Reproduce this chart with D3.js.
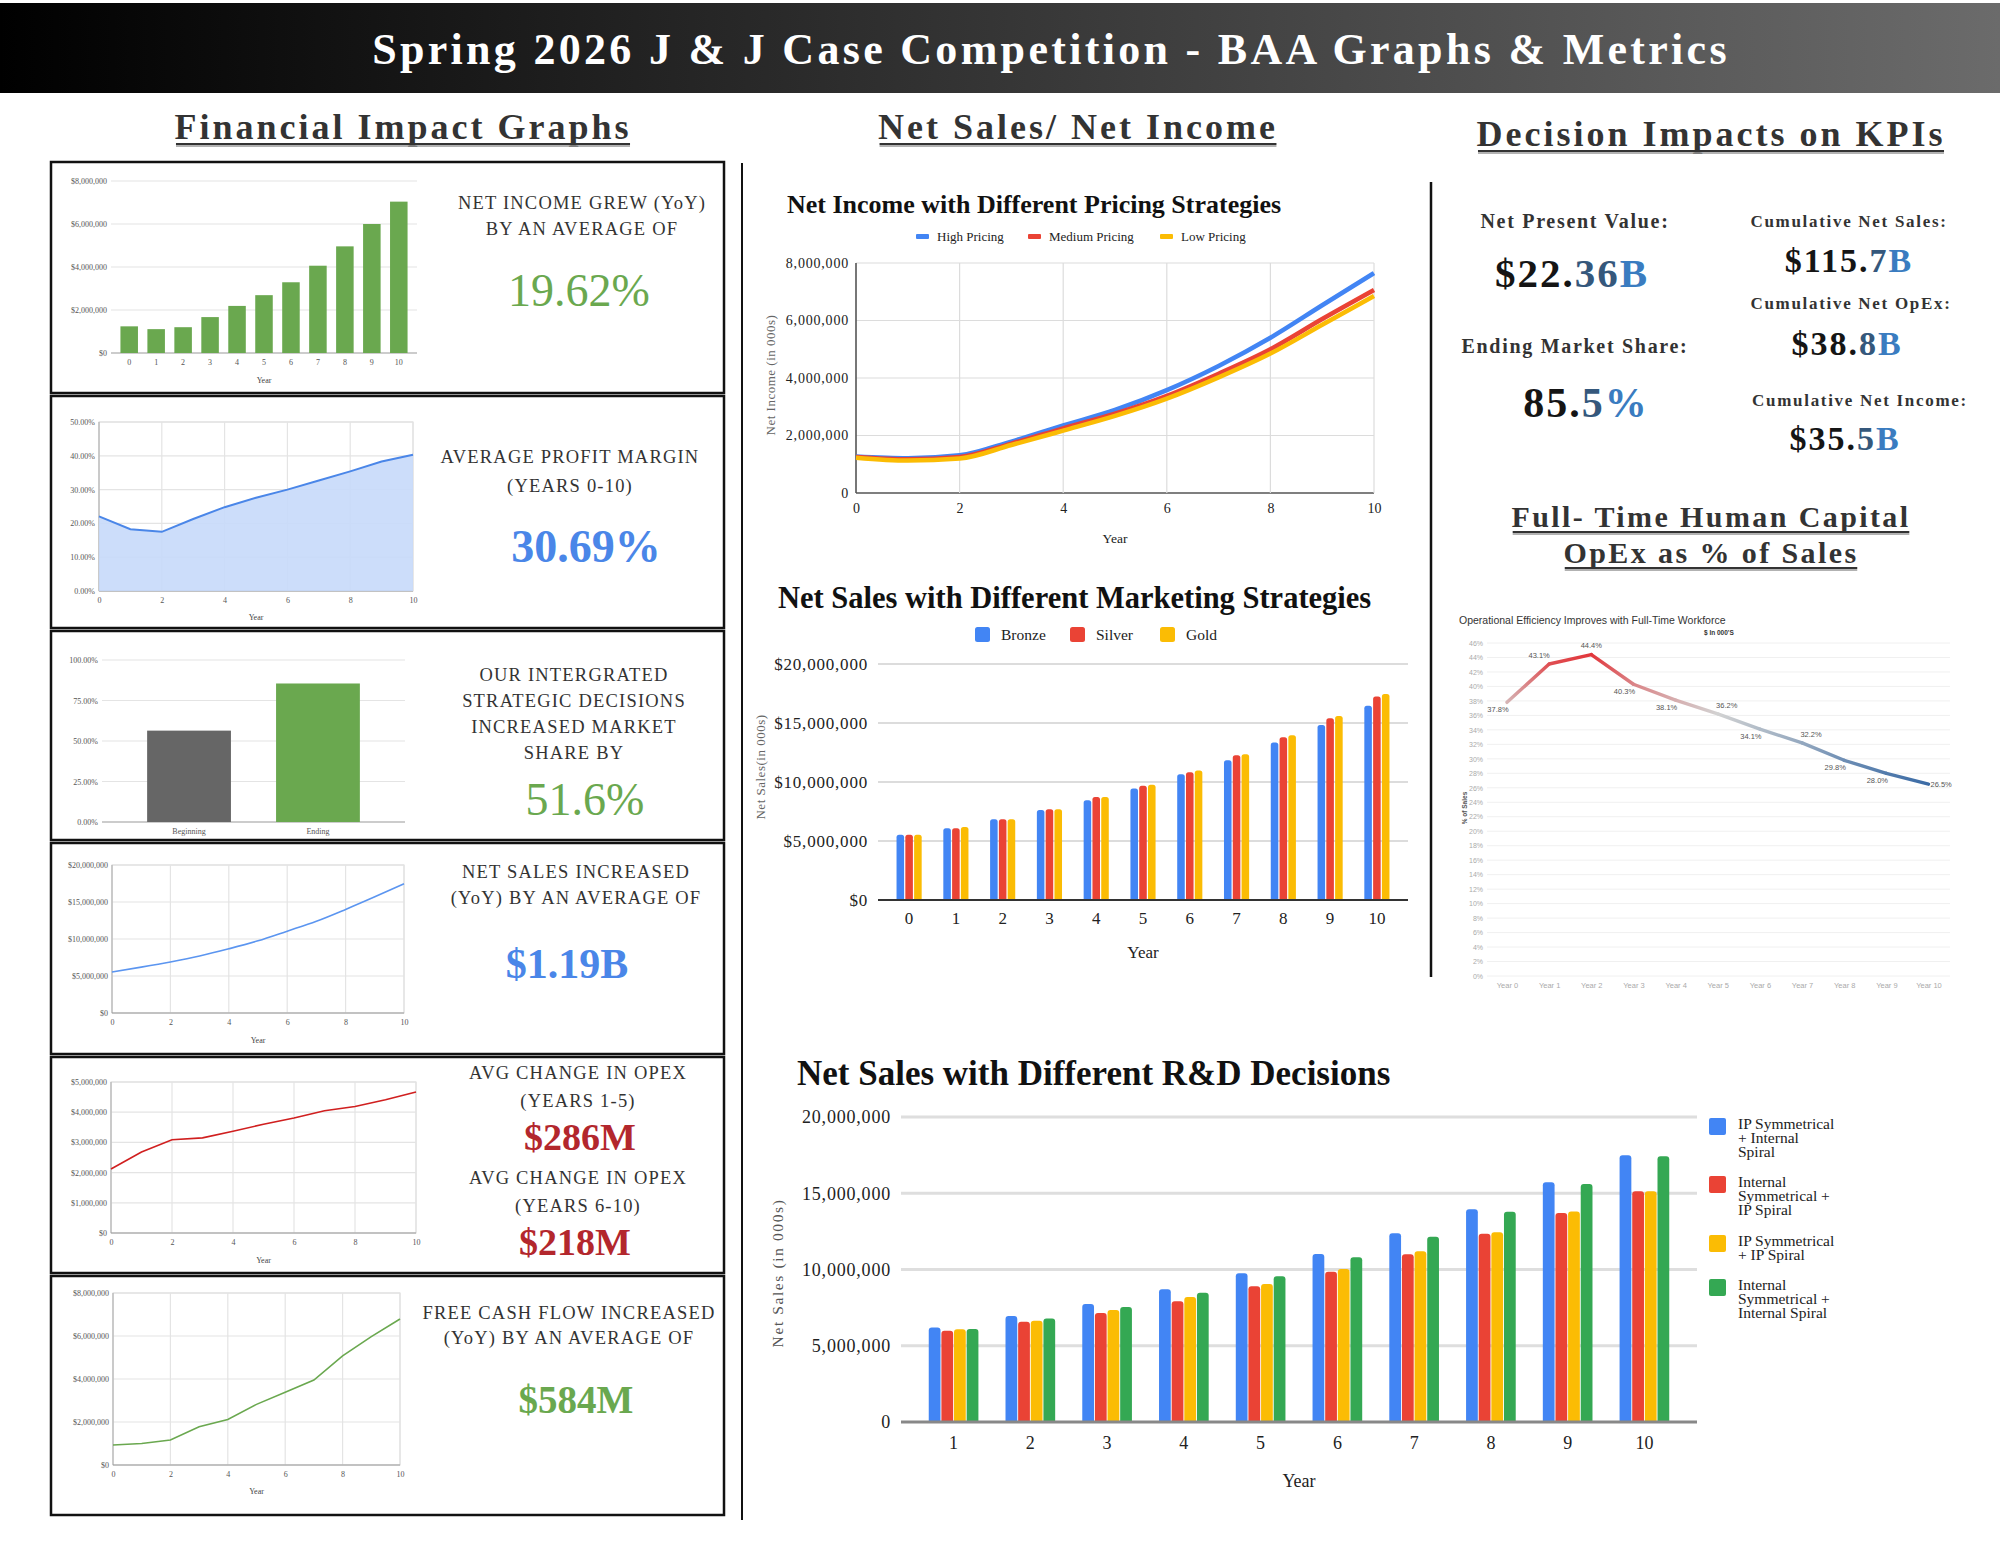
<!DOCTYPE html>
<html>
<head>
<meta charset="utf-8">
<title>BAA Graphs & Metrics</title>
<script src="https://cdn.jsdelivr.net/npm/d3@7"></script>
<style>
  body { margin: 0; background: #fff; }
  svg { display: block; }
</style>
</head>
<body>
<div id="vis"></div>
<script>
const w = 2000;
const h = 1545;
const serif = "'Liberation Serif', 'Times New Roman', serif";
const sans = "'Liberation Sans', Arial, sans-serif";

// ---------- data ----------
const years = [0, 1, 2, 3, 4, 5, 6, 7, 8, 9, 10];
const evenYears = [0, 2, 4, 6, 8, 10];

const netIncome = [1240000, 1110000, 1200000, 1670000, 2190000, 2690000, 3290000, 4060000, 4960000, 6000000, 7040000];
const profitMargin = [22.1, 18.3, 17.5, 21.3, 24.8, 27.6, 30.0, 32.7, 35.4, 38.3, 40.3];
const shareLabels = ['Beginning', 'Ending'];
const shareValues = [56.4, 85.5];
const netSales = [5550000, 6200000, 6900000, 7700000, 8670000, 9750000, 11060000, 12400000, 14000000, 15700000, 17470000];
const opex = [2120000, 2680000, 3090000, 3150000, 3370000, 3600000, 3810000, 4050000, 4190000, 4410000, 4670000];
const freeCashFlow = [930000, 1000000, 1160000, 1780000, 2120000, 2820000, 3380000, 3950000, 5080000, 5970000, 6790000];

const ticksMoney8 = [0, 2000000, 4000000, 6000000, 8000000];
const ticksMoney5 = [0, 1000000, 2000000, 3000000, 4000000, 5000000];
const ticksMoney20 = [0, 5000000, 10000000, 15000000, 20000000];
const ticksMargin = [0, 10, 20, 30, 40, 50];
const ticksShare = [0, 25, 50, 75, 100];

const pricingNames = ['High Pricing', 'Medium Pricing', 'Low Pricing'];
const highPricing = [1270000, 1210000, 1310000, 1790000, 2350000, 2890000, 3580000, 4420000, 5400000, 6530000, 7650000];
const mediumPricing = [1250000, 1170000, 1250000, 1720000, 2250000, 2760000, 3380000, 4150000, 5000000, 6050000, 7060000];
const lowPricing = [1230000, 1130000, 1200000, 1670000, 2170000, 2680000, 3280000, 4020000, 4850000, 5850000, 6850000];

const marketingNames = ['Bronze', 'Silver', 'Gold'];
const bronze = [5530000, 6090000, 6850000, 7620000, 8460000, 9450000, 10660000, 11850000, 13340000, 14840000, 16470000];
const silver = [5530000, 6090000, 6850000, 7700000, 8720000, 9680000, 10830000, 12270000, 13790000, 15400000, 17240000];
const gold = [5530000, 6180000, 6850000, 7700000, 8720000, 9760000, 10970000, 12360000, 13960000, 15600000, 17460000];

const rdYears = [1, 2, 3, 4, 5, 6, 7, 8, 9, 10];
const rdLegend = [
    ['IP Symmetrical', '+ Internal', 'Spiral'],
    ['Internal', 'Symmetrical +', 'IP Spiral'],
    ['IP Symmetrical', '+ IP Spiral'],
    ['Internal', 'Symmetrical +', 'Internal Spiral']
];
const ipSymIntSpiral = [6200000, 6950000, 7740000, 8700000, 9750000, 11020000, 12370000, 13950000, 15720000, 17500000];
const intSymIpSpiral = [5990000, 6580000, 7150000, 7910000, 8900000, 9860000, 11000000, 12350000, 13700000, 15130000];
const ipSymIpSpiral = [6080000, 6640000, 7340000, 8200000, 9050000, 10030000, 11190000, 12440000, 13810000, 15130000];
const intSymIntSpiral = [6100000, 6780000, 7540000, 8480000, 9550000, 10800000, 12150000, 13790000, 15600000, 17420000];

const hcYears = ['Year 0', 'Year 1', 'Year 2', 'Year 3', 'Year 4', 'Year 5', 'Year 6', 'Year 7', 'Year 8', 'Year 9', 'Year 10'];
const hcOpexPct = [37.8, 43.1, 44.4, 40.3, 38.1, 36.2, 34.1, 32.2, 29.8, 28.0, 26.5];
const hcTicks = [0, 2, 4, 6, 8, 10, 12, 14, 16, 18, 20, 22, 24, 26, 28, 30, 32, 34, 36, 38, 40, 42, 44, 46];

const kpiLabels = ['Net Present Value:', 'Ending Market Share:', 'Cumulative Net Sales:', 'Cumulative Net OpEx:', 'Cumulative Net Income:'];
const kpiValues = [['$22.', '36', 'B'], ['85.', '5', '%'], ['$115.', '7', 'B'], ['$38.', '8', 'B'], ['$35.', '5', 'B']];

const green = '#6aa84f';
const blue = '#4a86e8';
const darkRed = '#b3272d';

const svg = d3.select('#vis')
    .append('svg')
    .attr('width', w)
    .attr('height', h);

const defs = svg.append('defs');

// ---------- header ----------
const hg = defs.append('linearGradient').attr('id', 'hdr');
hg.append('stop').attr('offset', 0).attr('stop-color', '#000');
hg.append('stop').attr('offset', 1).attr('stop-color', '#6b6b6b');
svg.append('rect').attr('x', 0).attr('y', 3).attr('width', w).attr('height', 90).attr('fill', 'url(#hdr)');
svg.append('text')
    .attr('x', 1051).attr('y', 64)
    .attr('text-anchor', 'middle')
    .attr('font-family', serif).attr('font-weight', 'bold').attr('font-size', 44)
    .style('letter-spacing', '3.3px')
    .attr('fill', '#fff')
    .text('Spring 2026 J & J Case Competition - BAA Graphs & Metrics');

function heading(txt, cx, y, size, spacing) {
    const t = svg.append('text')
        .attr('x', cx).attr('y', y)
        .attr('text-anchor', 'middle')
        .attr('font-family', serif).attr('font-weight', 'bold').attr('font-size', size)
        .style('letter-spacing', spacing + 'px')
        .attr('fill', '#333')
        .text(txt);
    const len = t.node().getComputedTextLength() - spacing;
    svg.append('line').attr('x1', cx - len / 2).attr('x2', cx + len / 2)
        .attr('y1', y + 7).attr('y2', y + 7).attr('stroke', '#999').attr('stroke-width', 1.5);
    svg.append('line').attr('x1', cx - len / 2).attr('x2', cx + len / 2)
        .attr('y1', y + 5).attr('y2', y + 5).attr('stroke', '#333').attr('stroke-width', 2);
}
heading('Financial Impact Graphs', 403, 139, 36, 3);
heading('Net Sales/ Net Income', 1078, 139, 36, 3);
heading('Decision Impacts on KPIs', 1711, 146, 36, 3);
heading('Full- Time Human Capital', 1711, 527, 30, 2.4);
heading('OpEx as % of Sales', 1711, 563, 30, 2.4);

// dividers
svg.append('line').attr('x1', 742).attr('x2', 742).attr('y1', 163).attr('y2', 1520).attr('stroke', '#111').attr('stroke-width', 2);
svg.append('line').attr('x1', 1431).attr('x2', 1431).attr('y1', 182).attr('y2', 977).attr('stroke', '#111').attr('stroke-width', 2.5);

// ---------- left panel ----------
const boxes = [[162, 393], [396, 628], [631, 840], [843, 1054], [1057, 1273], [1276, 1515]];
svg.selectAll('.box').data(boxes).join('rect')
    .attr('class', 'box')
    .attr('x', 51).attr('y', d => d[0])
    .attr('width', 673).attr('height', d => d[1] - d[0])
    .attr('fill', 'none').attr('stroke', '#111').attr('stroke-width', 2.5);

function styleAxis(sel, size, color, spacing) {
    sel.select('.domain').remove();
    sel.selectAll('.tick line').remove();
    sel.selectAll('text')
        .attr('font-family', serif).attr('font-size', size).attr('fill', color)
        .style('letter-spacing', (spacing || 0) + 'px');
}

function miniChart(x, y, yTicks, yFmt, xTicks, opt) {
    const g = svg.append('g');
    const [x0, x1] = x.range();
    const [y0, y1] = y.range();
    if (opt.frame) {
        g.append('rect').attr('x', x0).attr('y', y1).attr('width', x1 - x0).attr('height', y0 - y1)
            .attr('fill', 'none').attr('stroke', '#d6d6d6');
    }
    g.selectAll('.hgrid').data(yTicks.filter(t => t > 0)).join('line')
        .attr('x1', x0).attr('x2', x1)
        .attr('y1', d => y(d)).attr('y2', d => y(d))
        .attr('stroke', '#e4e4e4').attr('stroke-width', 1.2);
    if (opt.vgrid) {
        g.selectAll('.vgrid').data(xTicks.filter(t => t > 0)).join('line')
            .attr('x1', d => x(d)).attr('x2', d => x(d))
            .attr('y1', y1).attr('y2', y0)
            .attr('stroke', '#e4e4e4').attr('stroke-width', 1.2);
    }
    if (opt.frame) {
        g.append('line').attr('x1', x0).attr('x2', x0).attr('y1', y1).attr('y2', y0).attr('stroke', '#aaa');
    }
    g.append('line').attr('x1', x0).attr('x2', x1).attr('y1', y0).attr('y2', y0)
        .attr('stroke', '#999').attr('stroke-width', 1.2);
    g.append('g').attr('transform', `translate(${x0},0)`)
        .call(d3.axisLeft(y).tickValues(yTicks).tickFormat(yFmt).tickSize(0).tickPadding(4))
        .call(styleAxis, 8, '#555');
    const xa = d3.axisBottom(x).tickSize(0).tickPadding(6);
    if (xTicks) xa.tickValues(xTicks);
    g.append('g').attr('transform', `translate(0,${y0})`).call(xa).call(styleAxis, 8, '#555');
    if (opt.yearY) {
        g.append('text').attr('x', (x0 + x1) / 2).attr('y', opt.yearY)
            .attr('text-anchor', 'middle').attr('font-family', serif).attr('font-size', 8).attr('fill', '#444')
            .text('Year');
    }
    return g;
}

const money = d3.format('$,');
const pct2 = d => d3.format('.2f')(d) + '%';

// 1. net income bars
const x1 = d3.scaleBand().domain(years).range([111, 417]).paddingInner(0.35).paddingOuter(0.35);
const y1 = d3.scaleLinear().domain([0, 8000000]).range([353, 181]);
const c1 = miniChart(x1, y1, ticksMoney8, money, null, { yearY: 383 });
c1.selectAll('.bar').data(netIncome).join('rect')
    .attr('x', (d, i) => x1(years[i])).attr('y', d => y1(d))
    .attr('width', x1.bandwidth()).attr('height', d => y1(0) - y1(d))
    .attr('fill', green);

// 2. profit margin area
const x2 = d3.scaleLinear().domain([0, 10]).range([99, 413]);
const y2 = d3.scaleLinear().domain([0, 50]).range([591, 422]);
const c2 = miniChart(x2, y2, ticksMargin, pct2, evenYears, { frame: true, vgrid: true, yearY: 620 });
c2.append('path').datum(profitMargin)
    .attr('d', d3.area().x((d, i) => x2(years[i])).y0(y2(0)).y1(d => y2(d)))
    .attr('fill', '#c6d9f9').attr('fill-opacity', 0.9);
c2.append('path').datum(profitMargin)
    .attr('d', d3.line().x((d, i) => x2(years[i])).y(d => y2(d)))
    .attr('fill', 'none').attr('stroke', blue).attr('stroke-width', 2);

// 3. market share bars
const x3 = d3.scaleBand().domain(shareLabels).range([102, 405]).padding(0.35);
const y3 = d3.scaleLinear().domain([0, 100]).range([822, 660]);
const c3 = miniChart(x3, y3, ticksShare, pct2, null, {});
c3.selectAll('.bar').data(shareValues).join('rect')
    .attr('x', (d, i) => x3(shareLabels[i])).attr('y', d => y3(d))
    .attr('width', x3.bandwidth()).attr('height', d => y3(0) - y3(d))
    .attr('fill', (d, i) => i === 0 ? '#666666' : green);

// 4. net sales line
const x4 = d3.scaleLinear().domain([0, 10]).range([112, 404]);
const y4 = d3.scaleLinear().domain([0, 20000000]).range([1013, 865]);
const c4 = miniChart(x4, y4, ticksMoney20, money, evenYears, { frame: true, vgrid: true, yearY: 1043 });
c4.append('path').datum(netSales)
    .attr('d', d3.line().x((d, i) => x4(years[i])).y(d => y4(d)).curve(d3.curveMonotoneX))
    .attr('fill', 'none').attr('stroke', '#5b95f0').attr('stroke-width', 1.6);

// 5. opex line
const x5 = d3.scaleLinear().domain([0, 10]).range([111, 416]);
const y5 = d3.scaleLinear().domain([0, 5000000]).range([1233, 1082]);
const c5 = miniChart(x5, y5, ticksMoney5, money, evenYears, { frame: true, vgrid: true, yearY: 1263 });
c5.append('path').datum(opex)
    .attr('d', d3.line().x((d, i) => x5(years[i])).y(d => y5(d)))
    .attr('fill', 'none').attr('stroke', '#d01f1f').attr('stroke-width', 1.6);

// 6. free cash flow line
const x6 = d3.scaleLinear().domain([0, 10]).range([113, 400]);
const y6 = d3.scaleLinear().domain([0, 8000000]).range([1465, 1293]);
const c6 = miniChart(x6, y6, ticksMoney8, money, evenYears, { frame: true, vgrid: true, yearY: 1494 });
c6.append('path').datum(freeCashFlow)
    .attr('d', d3.line().x((d, i) => x6(years[i])).y(d => y6(d)))
    .attr('fill', 'none').attr('stroke', green).attr('stroke-width', 1.6);

// captions to the right of each mini chart
function caption(lines, baselines, cx) {
    svg.append('g').selectAll('text').data(lines).join('text')
        .attr('x', cx).attr('y', (d, i) => baselines[i])
        .attr('text-anchor', 'middle')
        .attr('font-family', serif).attr('font-size', 18.5)
        .style('letter-spacing', '1.2px')
        .attr('fill', '#333')
        .text(d => d);
}
function bigNumber(txt, cx, y, size, color, bold) {
    svg.append('text').attr('x', cx).attr('y', y)
        .attr('text-anchor', 'middle')
        .attr('font-family', serif).attr('font-size', size)
        .attr('font-weight', bold ? 'bold' : 'normal')
        .attr('fill', color)
        .text(txt);
}
caption(['NET INCOME GREW (YoY)', 'BY AN AVERAGE OF'], [209, 235], 582);
bigNumber('19.62%', 579, 306, 46, green, false);
caption(['AVERAGE PROFIT MARGIN', '(YEARS 0-10)'], [463, 492], 570);
bigNumber('30.69%', 586, 562, 46, blue, true);
caption(['OUR INTERGRATED', 'STRATEGIC DECISIONS', 'INCREASED MARKET', 'SHARE BY'], [681, 707, 733, 759], 574);
bigNumber('51.6%', 585, 815, 46, green, false);
caption(['NET SALES INCREASED', '(YoY) BY AN AVERAGE OF'], [878, 904], 576);
bigNumber('$1.19B', 567, 978, 42, blue, true);
caption(['AVG CHANGE IN OPEX', '(YEARS 1-5)', 'AVG CHANGE IN OPEX', '(YEARS 6-10)'], [1079, 1107, 1184, 1212], 578);
bigNumber('$286M', 580, 1150, 38, darkRed, true);
bigNumber('$218M', 575, 1255, 38, darkRed, true);
caption(['FREE CASH FLOW INCREASED', '(YoY) BY AN AVERAGE OF'], [1319, 1344], 569);
bigNumber('$584M', 576, 1413, 39, green, true);

// ---------- net income by pricing ----------
const pColors = ['#4285f4', '#ea4335', '#fbbc04'];
const px = d3.scaleLinear().domain([0, 10]).range([856, 1374]);
const py = d3.scaleLinear().domain([0, 8000000]).range([493, 263]);

svg.append('text').attr('x', 787).attr('y', 213)
    .attr('font-family', serif).attr('font-weight', 'bold').attr('font-size', 26).attr('fill', '#111')
    .text('Net Income with Different Pricing Strategies');

const pLegendX = [916, 1028, 1160];
pricingNames.forEach((n, i) => {
    svg.append('rect').attr('x', pLegendX[i]).attr('y', 234).attr('width', 13).attr('height', 5).attr('rx', 1).attr('fill', pColors[i]);
    svg.append('text').attr('x', pLegendX[i] + 21).attr('y', 241)
        .attr('font-family', serif).attr('font-size', 13).attr('fill', '#222').text(n);
});

svg.append('g').selectAll('line').data(ticksMoney8).join('line')
    .attr('x1', px(0)).attr('x2', px(10)).attr('y1', d => py(d)).attr('y2', d => py(d))
    .attr('stroke', d => d === 0 ? '#555' : '#dcdcdc').attr('stroke-width', d => d === 0 ? 1.6 : 1.2);
svg.append('g').selectAll('line').data(evenYears).join('line')
    .attr('x1', d => px(d)).attr('x2', d => px(d)).attr('y1', py(8000000)).attr('y2', py(0))
    .attr('stroke', d => d === 0 ? '#555' : '#dcdcdc').attr('stroke-width', d => d === 0 ? 1.6 : 1.2);

svg.append('g').attr('transform', `translate(${px(0)},0)`)
    .call(d3.axisLeft(py).tickValues(ticksMoney8).tickFormat(d3.format(',')).tickSize(0).tickPadding(7))
    .call(styleAxis, 14, '#222', 0.8);
svg.append('g').attr('transform', `translate(0,${py(0)})`)
    .call(d3.axisBottom(px).tickValues(evenYears).tickFormat(d3.format('d')).tickSize(0).tickPadding(10))
    .call(styleAxis, 14, '#222');
svg.append('text').attr('x', 1115).attr('y', 543).attr('text-anchor', 'middle')
    .attr('font-family', serif).attr('font-size', 13.5).attr('fill', '#222').text('Year');
svg.append('text').attr('transform', 'translate(775,375) rotate(-90)').attr('text-anchor', 'middle')
    .attr('font-family', serif).attr('font-size', 13).style('letter-spacing', '0.5px').attr('fill', '#666')
    .text('Net Income (in 000s)');

const pLine = d3.line().x((d, i) => px(years[i])).y(d => py(d)).curve(d3.curveMonotoneX);
[highPricing, mediumPricing, lowPricing].forEach((s, i) => {
    svg.append('path').datum(s).attr('d', pLine)
        .attr('fill', 'none').attr('stroke', pColors[i]).attr('stroke-width', 4.5).attr('stroke-linejoin', 'round');
});

// ---------- net sales by marketing ----------
const topRound = (x, y, bw, bh, r) => {
    r = Math.min(r, bw / 2, bh);
    return `M${x},${y + bh}V${y + r}Q${x},${y} ${x + r},${y}H${x + bw - r}Q${x + bw},${y} ${x + bw},${y + r}V${y + bh}Z`;
};

const mColors = ['#4285f4', '#ea4335', '#fbbc04'];
const mx = d3.scaleBand().domain(years).range([878, 1408]).paddingInner(0.41).paddingOuter(0.37);
const mxi = d3.scaleBand().domain([0, 1, 2]).range([0, mx.bandwidth()]).padding(0.14);
const my = d3.scaleLinear().domain([0, 20000000]).range([900, 664]);

svg.append('text').attr('x', 778).attr('y', 608)
    .attr('font-family', serif).attr('font-weight', 'bold').attr('font-size', 30.5).attr('fill', '#111')
    .text('Net Sales with Different Marketing Strategies');
const mLegendX = [975, 1070, 1160];
marketingNames.forEach((n, i) => {
    svg.append('rect').attr('x', mLegendX[i]).attr('y', 627).attr('width', 15).attr('height', 15).attr('rx', 2.5).attr('fill', mColors[i]);
    svg.append('text').attr('x', mLegendX[i] + 26).attr('y', 640)
        .attr('font-family', serif).attr('font-size', 15.5).attr('fill', '#222').text(n);
});

svg.append('g').selectAll('line').data(ticksMoney20.filter(t => t > 0)).join('line')
    .attr('x1', 878).attr('x2', 1408).attr('y1', d => my(d)).attr('y2', d => my(d))
    .attr('stroke', '#d0d0d0').attr('stroke-width', 1.3);

[bronze, silver, gold].forEach((s, k) => {
    svg.append('g').selectAll('path').data(s).join('path')
        .attr('d', (d, i) => topRound(mx(years[i]) + mxi(k), my(d), mxi.bandwidth(), my(0) - my(d), 2.5))
        .attr('fill', mColors[k]);
});
svg.append('line').attr('x1', 878).attr('x2', 1408).attr('y1', my(0)).attr('y2', my(0))
    .attr('stroke', '#333').attr('stroke-width', 2);

svg.append('g').attr('transform', 'translate(876,0)')
    .call(d3.axisLeft(my).tickValues(ticksMoney20).tickFormat(money).tickSize(0).tickPadding(8))
    .call(styleAxis, 17, '#222', 0.8);
svg.append('g').attr('transform', `translate(0,${my(0)})`)
    .call(d3.axisBottom(mx).tickSize(0).tickPadding(12))
    .call(styleAxis, 17, '#222');
svg.append('text').attr('x', 1143).attr('y', 958).attr('text-anchor', 'middle')
    .attr('font-family', serif).attr('font-size', 17).attr('fill', '#222').text('Year');
svg.append('text').attr('transform', 'translate(765,767) rotate(-90)').attr('text-anchor', 'middle')
    .attr('font-family', serif).attr('font-size', 13).style('letter-spacing', '0.5px').attr('fill', '#666')
    .text('Net Sales(in 000s)');

// ---------- net sales by R&D ----------
const rColors = ['#4285f4', '#ea4335', '#fbbc04', '#34a853'];
const rx = d3.scaleBand().domain(rdYears).range([901, 1697]).paddingInner(0.33).paddingOuter(0.35);
const rxi = d3.scaleBand().domain([0, 1, 2, 3]).range([0, rx.bandwidth()]).padding(0.07);
const ry = d3.scaleLinear().domain([0, 20000000]).range([1422, 1117]);

svg.append('text').attr('x', 797).attr('y', 1085)
    .attr('font-family', serif).attr('font-weight', 'bold').attr('font-size', 35).attr('fill', '#111')
    .text('Net Sales with Different R&D Decisions');

svg.append('g').selectAll('line').data(ticksMoney20.filter(t => t > 0)).join('line')
    .attr('x1', 901).attr('x2', 1697).attr('y1', d => ry(d)).attr('y2', d => ry(d))
    .attr('stroke', '#dedede').attr('stroke-width', 3);

[ipSymIntSpiral, intSymIpSpiral, ipSymIpSpiral, intSymIntSpiral].forEach((s, k) => {
    svg.append('g').selectAll('path').data(s).join('path')
        .attr('d', (d, i) => topRound(rx(rdYears[i]) + rxi(k), ry(d), rxi.bandwidth(), ry(0) - ry(d), 3))
        .attr('fill', rColors[k]);
});
svg.append('line').attr('x1', 901).attr('x2', 1697).attr('y1', ry(0)).attr('y2', ry(0))
    .attr('stroke', '#888').attr('stroke-width', 3);

svg.append('g').attr('transform', 'translate(899,0)')
    .call(d3.axisLeft(ry).tickValues(ticksMoney20).tickFormat(d3.format(',')).tickSize(0).tickPadding(8))
    .call(styleAxis, 18, '#222', 0.8);
svg.append('g').attr('transform', `translate(0,${ry(0)})`)
    .call(d3.axisBottom(rx).tickSize(0).tickPadding(14))
    .call(styleAxis, 18, '#222');
svg.append('text').attr('x', 1299).attr('y', 1487).attr('text-anchor', 'middle')
    .attr('font-family', serif).attr('font-size', 18).attr('fill', '#222').text('Year');
svg.append('text').attr('transform', 'translate(783,1273) rotate(-90)').attr('text-anchor', 'middle')
    .attr('font-family', serif).attr('font-size', 15.5).style('letter-spacing', '1.6px').attr('fill', '#555')
    .text('Net Sales (in 000s)');

const rLegendY = [1118, 1176, 1235, 1279];
rdLegend.forEach((lines, i) => {
    svg.append('rect').attr('x', 1709).attr('y', rLegendY[i]).attr('width', 17).attr('height', 17).attr('rx', 2).attr('fill', rColors[i]);
    svg.append('g').selectAll('text').data(lines).join('text')
        .attr('x', 1738).attr('y', (d, j) => rLegendY[i] + 11 + j * 14)
        .attr('font-family', serif).attr('font-size', 15.5).attr('fill', '#222')
        .text(d => d);
});

// ---------- KPIs ----------
const kpiPos = [
    { lx: 1575, ly: 228, vx: 1572, vy: 287, ls: 20, vs: 41 },
    { lx: 1575, ly: 353, vx: 1586, vy: 417, ls: 20, vs: 42 },
    { lx: 1849, ly: 227, vx: 1849, vy: 272, ls: 17, vs: 34 },
    { lx: 1851, ly: 309, vx: 1847, vy: 355, ls: 17, vs: 34 },
    { lx: 1860, ly: 406, vx: 1845, vy: 450, ls: 17, vs: 34 }
];
const kpiColors = ['#151515', '#35587c', '#3a7cc0'];
kpiLabels.forEach((lab, i) => {
    const p = kpiPos[i];
    svg.append('text').attr('x', p.lx).attr('y', p.ly).attr('text-anchor', 'middle')
        .attr('font-family', serif).attr('font-weight', 'bold').attr('font-size', p.ls)
        .style('letter-spacing', '1.7px').attr('fill', '#333')
        .text(lab);
    const v = svg.append('text').attr('x', p.vx).attr('y', p.vy).attr('text-anchor', 'middle')
        .attr('font-family', serif).attr('font-weight', 'bold').attr('font-size', p.vs)
        .style('letter-spacing', '2px');
    kpiValues[i].forEach((part, j) => v.append('tspan').attr('fill', kpiColors[j]).text(part));
});

// ---------- human capital opex % ----------
const hx = d3.scalePoint().domain(hcYears).range([1507, 1928.5]);
const hy = d3.scaleLinear().domain([0, 46]).range([976, 643]);

svg.append('text').attr('x', 1459).attr('y', 624)
    .attr('font-family', sans).attr('font-size', 10.5).attr('fill', '#333')
    .text('Operational Efficiency Improves with Full-Time Workforce');
svg.append('text').attr('x', 1704).attr('y', 635)
    .attr('font-family', sans).attr('font-size', 6.5).attr('font-weight', 'bold').attr('fill', '#333')
    .text("$ In 000'S");

svg.append('g').selectAll('line').data(hcTicks).join('line')
    .attr('x1', 1487).attr('x2', 1950).attr('y1', d => hy(d)).attr('y2', d => hy(d))
    .attr('stroke', '#f0f0f0').attr('stroke-width', 1);
svg.append('g').attr('transform', 'translate(1487,0)')
    .call(d3.axisLeft(hy).tickValues(hcTicks).tickFormat(d => d + '%').tickSize(0).tickPadding(4))
    .call(styleAxis, 7, '#aaa')
    .selectAll('text').attr('font-family', sans);
svg.append('g').attr('transform', 'translate(0,980)')
    .call(d3.axisBottom(hx).tickSize(0).tickPadding(3))
    .call(styleAxis, 7.5, '#aaa')
    .selectAll('text').attr('font-family', sans);
svg.append('text').attr('transform', 'translate(1467,808) rotate(-90)').attr('text-anchor', 'middle')
    .attr('font-family', sans).attr('font-size', 6.5).attr('font-weight', 'bold').attr('fill', '#555')
    .text('% of Sales');

const hcColor = d3.scaleLinear().domain([26.5, 36.2, 44.4]).range(['#3b6ba5', '#d2d2d2', '#e2363b']);
hcOpexPct.slice(0, -1).forEach((v, i) => {
    const xa = hx(hcYears[i]), xb = hx(hcYears[i + 1]);
    const ya = hy(v), yb = hy(hcOpexPct[i + 1]);
    const gr = defs.append('linearGradient').attr('id', 'hcg' + i)
        .attr('gradientUnits', 'userSpaceOnUse')
        .attr('x1', xa).attr('y1', ya).attr('x2', xb).attr('y2', yb);
    gr.append('stop').attr('offset', 0).attr('stop-color', hcColor(v));
    gr.append('stop').attr('offset', 1).attr('stop-color', hcColor(hcOpexPct[i + 1]));
    svg.append('line').attr('x1', xa).attr('y1', ya).attr('x2', xb).attr('y2', yb)
        .attr('stroke', `url(#hcg${i})`).attr('stroke-width', 3.4).attr('stroke-linecap', 'round');
});

// point labels: below-left, above-left, above, above-right, right
const hcLabelPos = ['bl', 'al', 'a', 'bl', 'bl', 'ar', 'bl', 'ar', 'bl', 'bl', 'r'];
const labelOff = { bl: [-9, 10, 'middle'], al: [-10, -6, 'middle'], a: [0, -7, 'middle'], ar: [9, -6, 'middle'], r: [2, 3, 'start'] };
svg.append('g').selectAll('text').data(hcOpexPct).join('text')
    .attr('x', (d, i) => hx(hcYears[i]) + labelOff[hcLabelPos[i]][0])
    .attr('y', (d, i) => hy(d) + labelOff[hcLabelPos[i]][1])
    .attr('text-anchor', (d, i) => labelOff[hcLabelPos[i]][2])
    .attr('font-family', sans).attr('font-size', 7.5).attr('fill', '#555')
    .text(d => d3.format('.1f')(d) + '%');
</script>
</body>
</html>
